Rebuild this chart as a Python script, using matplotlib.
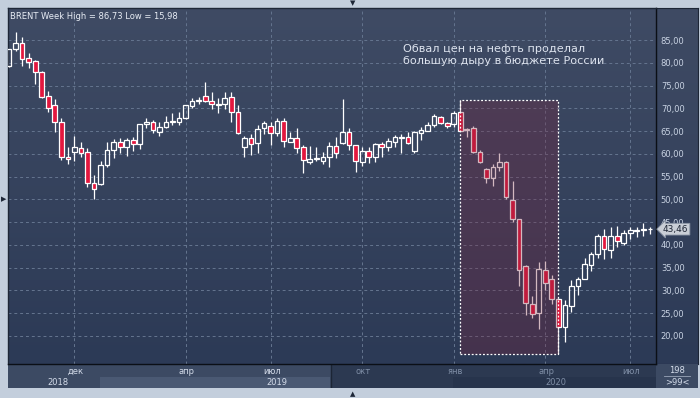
import matplotlib.pyplot as plt
import numpy as np
from matplotlib.colors import LinearSegmentedColormap
from matplotlib.patches import Rectangle
from matplotlib.lines import Line2D

# weekly BRENT candles (oldest first)
opens = [79.2, 83.0, 84.3, 81.0, 80.3, 77.9, 72.8, 70.7, 67.0, 59.2,
         60.5, 61.3, 60.3, 53.5, 53.3, 57.5, 60.8, 62.7, 61.6, 63.0,
         62.1, 66.5, 67.1, 64.9, 65.8, 67.1, 67.0, 67.8, 70.6, 71.7,
         72.7, 71.7, 70.8, 70.9, 72.4, 69.2, 61.6, 63.4, 62.3, 65.6,
         66.2, 64.5, 67.2, 62.6, 63.4, 61.4, 58.3, 58.8, 58.5, 59.2,
         61.8, 62.3, 64.9, 61.9, 58.3, 60.7, 59.4, 62.1, 61.6, 62.6,
         63.5, 63.6, 60.7, 64.5, 65.1, 66.3, 68.1, 66.7, 66.5, 69.1,
         65.3, 65.6, 60.5, 56.6, 54.6, 57.2, 58.3, 49.8, 45.6, 35.3,
         27.1, 25.1, 34.6, 32.6, 28.2, 21.9, 26.6, 31.0, 32.6, 35.5,
         38.0, 41.9, 38.8, 41.9, 40.5, 42.7, 43.1, 43.3, 43.4]
highs = [83.0, 86.73, 85.6, 82.1, 80.7, 78.2, 73.9, 72.0, 67.8, 61.4,
         63.9, 62.6, 61.2, 55.3, 58.4, 62.6, 63.2, 63.4, 63.5, 63.7,
         66.6, 67.8, 67.4, 67.0, 68.4, 68.9, 69.1, 70.8, 72.2, 72.4,
         75.7, 73.5, 72.2, 73.5, 73.5, 70.7, 64.0, 64.3, 66.3, 67.2,
         67.0, 67.8, 67.8, 64.9, 65.6, 61.9, 61.7, 61.4, 60.5, 62.6,
         63.7, 72.0, 65.6, 62.0, 61.6, 61.4, 62.4, 62.6, 63.5, 64.1,
         64.3, 64.7, 65.1, 65.8, 66.9, 68.7, 68.3, 67.0, 69.5, 71.8,
         65.7, 66.1, 60.8, 57.0, 57.7, 60.2, 58.4, 54.0, 45.7, 35.5,
         28.7, 36.3, 36.4, 33.3, 28.3, 27.9, 32.3, 33.0, 37.2, 38.5,
         42.5, 43.5, 44.0, 44.1, 43.2, 44.0, 44.0, 44.9, 44.0]
lows = [79.1, 82.6, 79.4, 78.8, 75.3, 72.2, 69.2, 64.7, 58.6, 57.7,
        58.4, 59.4, 52.8, 50.0, 53.2, 57.2, 59.0, 60.2, 59.6, 60.6,
        61.0, 65.6, 64.5, 64.0, 65.7, 66.3, 66.3, 67.6, 70.0, 70.9,
        71.3, 69.8, 68.9, 69.8, 67.0, 64.3, 59.4, 59.7, 60.2, 64.3,
        61.9, 63.9, 61.4, 62.5, 60.1, 55.9, 57.7, 58.4, 57.7, 57.2,
        59.0, 62.2, 60.8, 56.1, 57.3, 58.0, 58.3, 59.4, 60.7, 61.4,
        60.2, 62.1, 60.2, 63.0, 65.0, 66.0, 66.5, 65.7, 66.0, 65.0,
        63.7, 60.2, 57.9, 53.6, 52.9, 56.2, 50.0, 45.1, 30.9, 24.6,
        24.0, 21.6, 30.2, 27.1, 15.98, 18.7, 25.3, 29.0, 32.5, 34.3,
        37.2, 37.0, 37.2, 39.6, 39.9, 41.4, 41.8, 41.9, 42.4]
closes = [83.0, 84.3, 80.8, 80.1, 77.9, 72.5, 70.0, 67.0, 59.2, 58.8,
          61.4, 60.2, 53.5, 52.2, 57.5, 60.8, 62.7, 61.6, 63.0, 62.1,
          66.5, 67.1, 65.2, 65.8, 67.1, 67.3, 67.8, 70.7, 71.5, 71.9,
          71.7, 70.9, 71.0, 72.2, 69.2, 64.5, 63.4, 62.1, 65.4, 66.8,
          64.5, 67.2, 62.8, 63.4, 61.2, 58.6, 58.8, 59.0, 59.2, 61.8,
          60.2, 64.9, 61.9, 58.5, 60.7, 59.4, 62.1, 61.6, 62.8, 63.6,
          63.7, 62.4, 64.7, 65.2, 66.3, 68.3, 66.7, 66.1, 68.9, 65.1,
          65.5, 60.5, 58.3, 54.6, 57.2, 58.3, 50.6, 45.6, 34.6, 27.3,
          24.9, 34.8, 31.7, 28.2, 21.9, 26.8, 30.9, 32.6, 35.8, 38.0,
          41.9, 39.0, 41.9, 40.8, 42.7, 43.2, 43.3, 43.4, 43.46]

# month ticks (candle index) and year labels on the time band
month_pos = [10, 27, 40, 54, 68, 82, 95]
month_labels = ["дек", "апр", "июл", "окт", "янв", "апр", "июл"]
year_pos = [7.5, 41, 83.6]
year_labels = ["2018", "2019", "2020"]
y_ticks = list(range(20, 90, 5))

# highlighted crash: first and last candle of the box
crash_start, crash_end = 69, 84

note = "Обвал цен на нефть проделал\nбольшую дыру в бюджете России"

W, H = 700, 398
RED = "#e3173e"
FRAME = "#c3cedc"


def fx(px):
    return px / W


def fy(py):
    return 1 - py / H


def gradient(ax, top, bottom):
    cmap = LinearSegmentedColormap.from_list("bg", [top, bottom])
    g = np.linspace(0, 1, 256).reshape(-1, 1)
    ax.imshow(g, aspect="auto", cmap=cmap, extent=[0, 1, 0, 1],
              transform=ax.transAxes, zorder=0)


fig = plt.figure(figsize=(W / 100, H / 100), dpi=100, facecolor=FRAME)

# right price panel
ax_r = fig.add_axes([fx(656), fy(364), fx(42), (364 - 8) / H])
gradient(ax_r, "#3f4b64", "#2c3a56")
ax_r.set_xticks([])
ax_r.set_yticks([])
for s in ax_r.spines.values():
    s.set_color("#1d2636")

# main chart
ax = fig.add_axes([fx(8), fy(364), fx(648), (364 - 8) / H], zorder=3)
gradient(ax, "#3f4b64", "#2c3a56")

o = np.array(opens)
h = np.array(highs)
l = np.array(lows)
c = np.array(closes)
idx = np.arange(len(o))
up = c >= o
lo_b = np.minimum(o, c)
hi_b = np.maximum(o, c)

ax.vlines(idx, hi_b, h, color="white", lw=0.9, zorder=3)
ax.vlines(idx, l, lo_b, color="white", lw=0.9, zorder=3)
ax.bar(idx[up], (hi_b - lo_b)[up], bottom=lo_b[up], width=0.72,
       facecolor="none", edgecolor="white", lw=0.9, zorder=4)
ax.bar(idx[~up], (hi_b - lo_b)[~up], bottom=lo_b[~up], width=0.72,
       facecolor=RED, edgecolor="white", lw=0.9, zorder=4)

box_top = h[crash_start]
box_low = l.min()
ax.add_patch(Rectangle((crash_start, box_low), crash_end - crash_start,
                       box_top - box_low, facecolor=(0.47, 0.14, 0.24, 0.32),
                       edgecolor="white", lw=0.9, ls=(0, (1.5, 1.5)), zorder=5))

ax.set_xlim(-0.153, 98.93)
ax.set_ylim(13.85, 92.03)

ax.set_xticks(month_pos)
ax.set_xticklabels([])
ax.tick_params(axis="x", length=0)
ax.yaxis.tick_right()
ax.set_yticks(y_ticks)
ax.set_yticklabels([f"{v:.2f}".replace(".", ",") for v in y_ticks])
ax.tick_params(axis="y", length=0, pad=3.5, labelsize=6, labelcolor="#c9d3e3")
ax.grid(True, color="#65758f", lw=0.7, ls=(0, (3, 3)))
ax.set_axisbelow(True)
for name, s in ax.spines.items():
    s.set_color("#0b0f16" if name in ("right", "bottom") else "#1d2636")
    s.set_linewidth(1)

hdr = "BRENT Week High = {} Low = {}".format(
    f"{h.max():.2f}".replace(".", ","), f"{l.min():.2f}".replace(".", ","))
ax.text(2 / 648, 1 - 4 / 356, hdr, transform=ax.transAxes,
        ha="left", va="top", fontsize=6, color="#e8edf5", zorder=10)
ax.text((403 - 8) / 648, 1 - 36 / 356, note, transform=ax.transAxes,
        ha="left", va="top", fontsize=8.1, color="#dde3ee",
        linespacing=1.3, zorder=10)

last = c[-1]
ax.text((663 - 8) / 648, last, f"{last:.2f}".replace(".", ","),
        transform=ax.get_yaxis_transform(), ha="left", va="center",
        fontsize=6.5, color="#1c2433", clip_on=False, zorder=10,
        bbox=dict(boxstyle="larrow,pad=0.15", fc="#c9ced6", ec="#8a94a4", lw=0.6))

# time band under the chart
ax_b = fig.add_axes([fx(8), fy(388), fx(648), 24 / H])
ax_b.set_facecolor("#3c4a63")
ax_b.set_xlim(ax.get_xlim())
ax_b.set_ylim(0, 1)
bt = ax_b.transAxes
ax_b.add_patch(Rectangle(((100 - 8) / 648, 0), (330 - 100) / 648, 0.46,
                         transform=bt, fc="#4a5973", ec="none"))
ax_b.add_patch(Rectangle(((332 - 8) / 648, 0), (656 - 332) / 648, 1,
                         transform=bt, fc="#2c3951", ec="none"))
ax_b.add_patch(Rectangle(((453 - 8) / 648, 0), (656 - 453) / 648, 0.46,
                         transform=bt, fc="#27344c", ec="none"))
ax_b.axvline(x=ax.get_xlim()[0] + (331 - 8) / 6.54, color="#1c2535", lw=1)
for i, (p, t) in enumerate(zip(month_pos, month_labels)):
    col = "#d4dcea" if i < 3 else "#7f8ea6"
    ax_b.text(p + 0.2, 0.70, t, ha="center", va="center", fontsize=6, color=col)
for i, (p, t) in enumerate(zip(year_pos, year_labels)):
    col = "#d4dcea" if i < 2 else "#7f8ea6"
    ax_b.text(p, 0.22, t, ha="center", va="center", fontsize=6, color=col)
ax_b.set_xticks([])
ax_b.set_yticks([])
for s in ax_b.spines.values():
    s.set_visible(False)

# bottom-right counter box
ax_c = fig.add_axes([fx(656), fy(388), fx(42), 24 / H])
ax_c.set_facecolor("#3c4a63")
ax_c.set_xticks([])
ax_c.set_yticks([])
for s in ax_c.spines.values():
    s.set_visible(False)
ax_c.text(0.5, 0.74, "198", ha="center", va="center", fontsize=6,
          color="#d4dcea", transform=ax_c.transAxes)
ax_c.text(0.5, 0.24, ">99<", ha="center", va="center", fontsize=6,
          color="#d4dcea", transform=ax_c.transAxes)
ax_c.add_line(Line2D([0.2, 0.8], [0.5, 0.5], transform=ax_c.transAxes,
                     color="#9aa6b8", lw=0.6))

# little frame markers
fig.text(fx(353), fy(3), "▼", ha="center", va="center", fontsize=5, color="#1d2636")
fig.text(fx(353), fy(394), "▲", ha="center", va="center", fontsize=5, color="#1d2636")
fig.text(fx(3.5), fy(199), "▶", ha="center", va="center", fontsize=5, color="#1d2636")

fig.savefig("out.png", dpi=100, facecolor=FRAME)
